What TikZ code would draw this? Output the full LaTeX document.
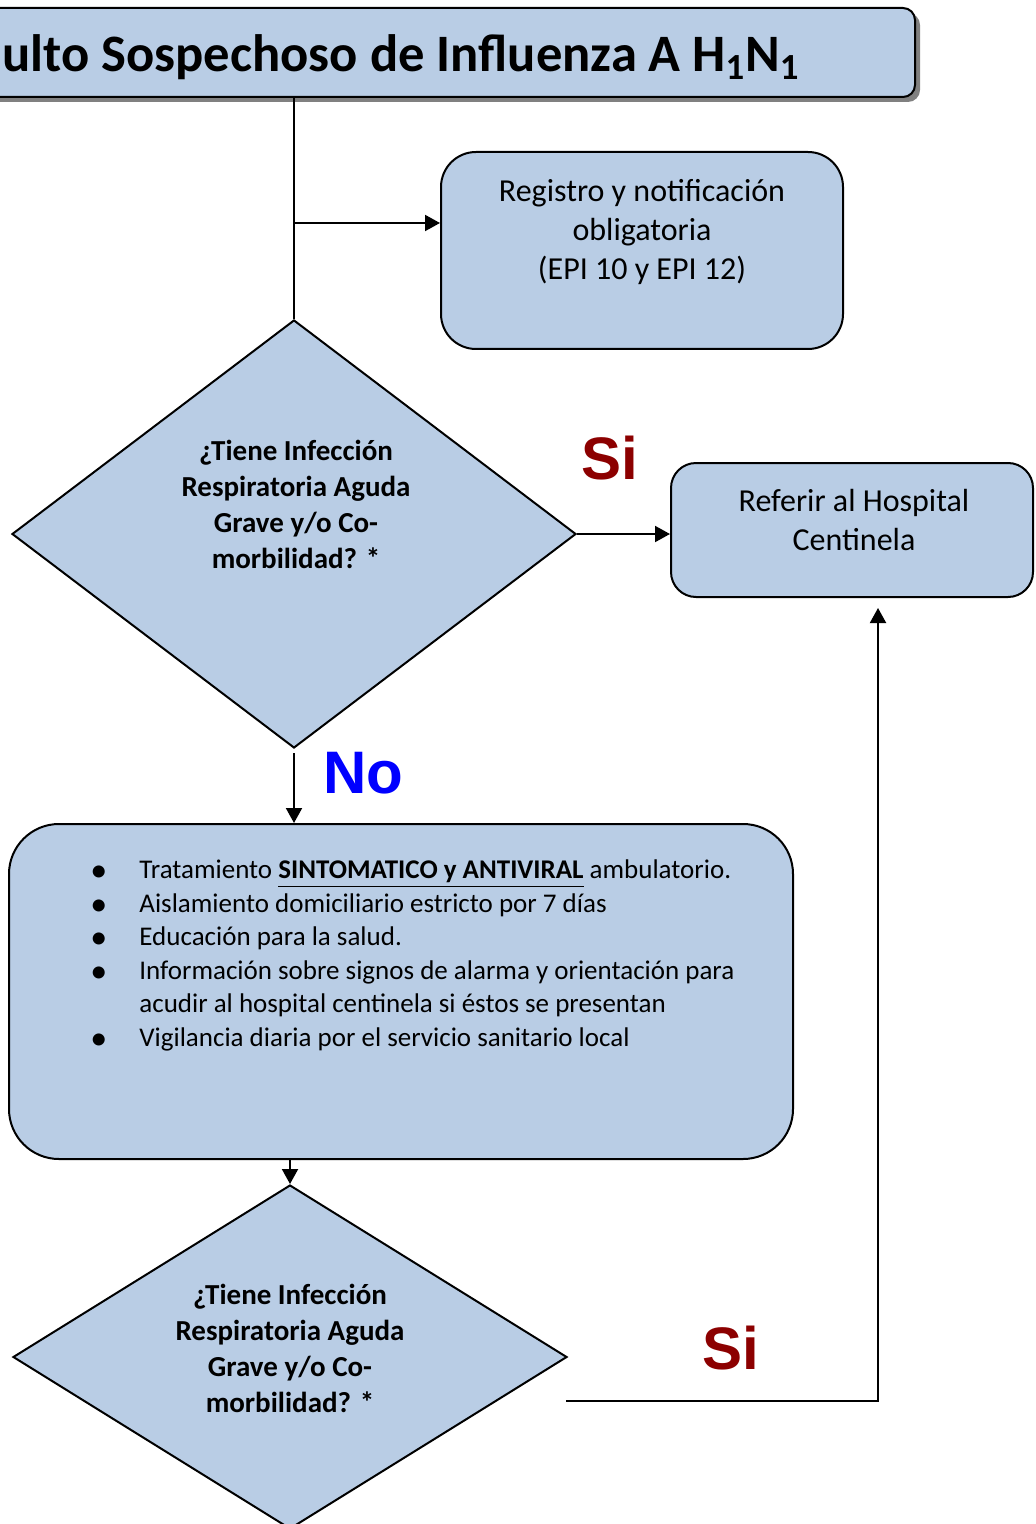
\documentclass[tikz,border=0pt]{standalone}
\usepackage{fontspec}
\setmainfont{Carlito}
\newfontfamily\arialfont{Liberation Sans}
\usepackage{tikz}
\usetikzlibrary{shapes.geometric, arrows.meta, shadows}
\usepackage[dvipsnames]{xcolor}
\definecolor{boxblue}{RGB}{185,205,229}
\definecolor{siRed}{RGB}{140,0,0}
\newcommand{\bul}{\fontsize{17}{16}\selectfont\raisebox{-1.5pt}{\textbullet}}

\begin{document}
\begin{tikzpicture}[x=0.5pt, y=-0.5pt,
        box/.style={draw, fill=boxblue, line width=1pt},
        decision/.style={box, diamond, inner sep=0pt},
        txt/.style={align=center, font=\fontsize{16}{19.5}\selectfont},
        qtxt/.style={align=center, font=\bfseries\fontsize{14.5}{18}\selectfont},
        answer/.style={font=\arialfont\bfseries\fontsize{30}{36}\selectfont},
        arr/.style={line width=1pt, -{Triangle[length=7.5pt, width=8pt]}}]
        \useasboundingbox (0,0) rectangle (1035,1524);
        \clip (0,0) rectangle (1035,1524);

        \node[box, rounded corners=6pt, minimum width=507.5pt, minimum height=44.5pt,
            drop shadow={shadow xshift=2.5pt, shadow yshift=-2.5pt, fill=black!50, opacity=1}] (1) at (407.5,52.5) {};
        \node[anchor=base east, inner sep=0pt, font=\bfseries\fontsize{26.3}{30}\selectfont] (1t) at (800,72) {ulto Sospechoso de Influenza A H\textsubscript{1}N\textsubscript{1}};
        \node[box, rounded corners=17.5pt, minimum width=201pt, minimum height=98.5pt] (2) at (642,250.5) {};
        \node[txt] (2t) at (642,232) {Registro y notificación\\obligatoria\\(EPI 10 y EPI 12)};
        \node[decision, minimum width=282pt, minimum height=214pt] (3) at (294,534) {};
        \node[qtxt] (3t) at (296,504) {¿Tiene Infección\\Respiratoria Aguda\\Grave y/o Co-\\morbilidad? *};
        \node[box, rounded corners=12.5pt, minimum width=181pt, minimum height=67pt] (4) at (852,530) {};
        \node[txt] (4t) at (854,520) {Referir al Hospital\\Centinela};
        \node[box, rounded corners=25pt, minimum width=392pt, minimum height=167.5pt] (5) at (401,991.5) {};
        \node[anchor=north west, inner sep=0pt, font=\fontsize{13.5}{16.75}\selectfont] (5t) at (90,855) {%
            \begin{tabular}{@{}p{24.5pt}@{}l@{}}
            \bul & Tratamiento \underline{\textbf{SINTOMATICO y ANTIVIRAL}} ambulatorio.\\
            \bul & Aislamiento domiciliario estricto por 7 días\\
            \bul & Educación para la salud.\\
            \bul & Información sobre signos de alarma y orientación para\\
                 & acudir al hospital centinela si éstos se presentan\\
            \bul & Vigilancia diaria por el servicio sanitario local
            \end{tabular}};
        \node[decision, minimum width=277pt, minimum height=172pt] (6) at (290,1357) {};
        \node[qtxt] (6t) at (290,1348) {¿Tiene Infección\\Respiratoria Aguda\\Grave y/o Co-\\morbilidad? *};

        \node[answer, text=siRed] (si1) at (610,458) {Si};
        \node[answer, text=blue] (no1) at (363,773) {No};
        \node[answer, text=siRed] (si2) at (731,1348) {Si};

        \coordinate (b) at (294,223);
        \coordinate (c) at (566,1401);
        \coordinate (d) at (878,608);
        \draw[line width=1pt] (1.south -| 3.north) -- (3.north);
        \draw[arr] (b) -- (b -| 2.west);
        \draw[arr] (3.east) -- (3.east -| 4.west);
        \draw[arr] ([yshift=-2pt]3.south) -- (3.south |- 5.north);
        \draw[arr] (5.south -| 6.north) -- (6.north);
        \draw[arr] (c) -| (d);
    \end{tikzpicture}
\end{document}
